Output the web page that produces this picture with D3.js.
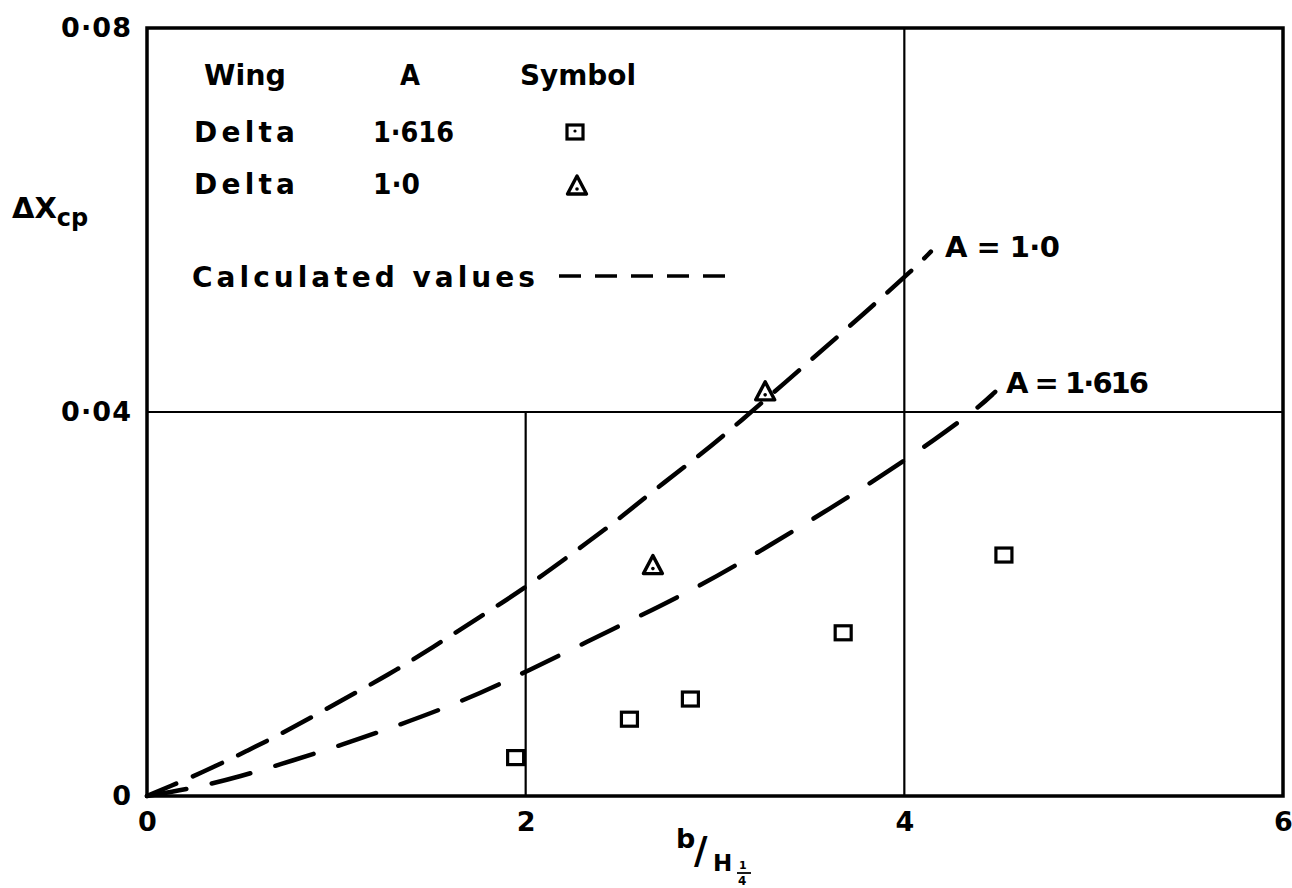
<!DOCTYPE html>
<html><head><meta charset="utf-8">
<script src="https://cdn.jsdelivr.net/npm/d3@7"></script>
<style>body{margin:0;background:#fff}svg{display:block}text{font-family:"DejaVu Sans",sans-serif;fill:#000;font-weight:bold}</style>
</head><body><svg id="c" width="1292" height="888"></svg>
<script>
// ---------- data ----------
const xTicks = [0, 2, 4, 6];
const xTickLabels = ["0", "2", "4", "6"];
const yTicks = [0, 0.04, 0.08];
const yTickLabels = ["0", "0·04", "0·08"];

// Delta wing A = 1.616 (squares)
const sqX = [1.947, 2.548, 2.870, 3.677, 4.526];
const sqY = [0.0040, 0.0080, 0.0101, 0.0170, 0.0251];
// Delta wing A = 1.0 (triangles)
const triX = [2.672, 3.265];
const triY = [0.0240, 0.0421];

// Calculated values, A = 1.0
const calc10X = [0, 0.12, 0.286, 0.53, 0.77, 1.03, 1.275, 1.51, 1.746, 2.0, 2.27, 2.49, 2.70, 2.92, 3.11, 3.50, 3.79, 4.06, 4.14];
const calc10Y = [0, 0.0010, 0.0024, 0.0047, 0.0071, 0.0100, 0.0126, 0.0155, 0.0185, 0.0217, 0.0256, 0.0288, 0.0322, 0.0355, 0.0386, 0.0453, 0.0503, 0.0551, 0.0567];
// Calculated values, A = 1.616
const calc16X = [0, 0.24, 0.49, 0.77, 1.04, 1.29, 1.66, 2.0, 2.46, 2.87, 3.24, 3.62, 3.90, 4.16, 4.40, 4.48];
const calc16Y = [0, 0.0008, 0.0020, 0.0037, 0.0054, 0.0071, 0.0098, 0.0129, 0.0174, 0.0213, 0.0255, 0.0301, 0.0336, 0.0371, 0.0406, 0.0421];
const curveLabels = ["A = 1·0", "A = 1·616"];

const legendHeader = ["Wing", "A", "Symbol"];
const legendWing = ["Delta", "Delta"];
const legendA = ["1·616", "1·0"];
const legendCalc = "Calculated values";

// grid segments [x0,y0,x1,y1] in data units
const gridSegs = [[2, 0, 2, 0.04], [4, 0, 4, 0.08], [0, 0.04, 6, 0.04]];

// ---------- drawing ----------
const svg = d3.select("#c");
const x = d3.scaleLinear().domain([0, 6]).range([147, 1283]);
const y = d3.scaleLinear().domain([0, 0.08]).range([796, 28]);

// grid
svg.append("g").selectAll("line").data(gridSegs).join("line")
  .attr("x1", d => x(d[0])).attr("y1", d => y(d[1]))
  .attr("x2", d => x(d[2])).attr("y2", d => y(d[3]))
  .attr("stroke", "#000").attr("stroke-width", 2.2);

// frame
svg.append("rect").attr("x", x(0)).attr("y", y(0.08))
  .attr("width", x(6) - x(0)).attr("height", y(0) - y(0.08))
  .attr("fill", "none").attr("stroke", "#000").attr("stroke-width", 3.5);

// axes
const xAxis = d3.axisBottom(x).tickValues(xTicks).tickSize(0).tickPadding(16)
  .tickFormat((d, i) => xTickLabels[i]);
const gx = svg.append("g").attr("transform", `translate(0,${y(0)})`).call(xAxis);
gx.select(".domain").remove();
gx.selectAll("text").attr("font-size", 27).attr("font-family", "DejaVu Sans").attr("fill", "#000");

const yAxis = d3.axisLeft(y).tickValues(yTicks).tickSize(0).tickPadding(16)
  .tickFormat((d, i) => yTickLabels[i]);
const gy = svg.append("g").attr("transform", `translate(${x(0)},0)`).call(yAxis);
gy.select(".domain").remove();
gy.selectAll("text").attr("font-size", 27).attr("font-family", "DejaVu Sans").attr("fill", "#000");
gy.selectAll("text").filter((d, i) => i > 0).attr("textLength", 70).attr("lengthAdjust", "spacing");

// curves
const line = d3.line().x(d => x(d[0])).y(d => y(d[1])).curve(d3.curveBasis);
const c10 = calc10X.map((v, i) => [v, calc10Y[i]]);
const c16 = calc16X.map((v, i) => [v, calc16Y[i]]);
svg.append("path").attr("d", line(c10)).attr("fill", "none").attr("stroke", "#000")
  .attr("stroke-width", 4.5).attr("stroke-linecap", "round").attr("stroke-dasharray", "32,18");
svg.append("path").attr("d", line(c16)).attr("fill", "none").attr("stroke", "#000")
  .attr("stroke-width", 4.5).attr("stroke-linecap", "round").attr("stroke-dasharray", "40,26");

// curve labels
svg.append("text").attr("x", 945).attr("y", 257).attr("font-size", 29)
  .attr("textLength", 115).attr("lengthAdjust", "spacing").text(curveLabels[0]);
svg.append("text").attr("x", 1006).attr("y", 393).attr("font-size", 29)
  .attr("textLength", 143).attr("lengthAdjust", "spacing").text(curveLabels[1]);

// markers
function square(g, cx, cy, dot) {
  g.append("rect").attr("x", cx - 8).attr("y", cy - 7).attr("width", 16).attr("height", 14)
    .attr("fill", "#fff").attr("stroke", "#000").attr("stroke-width", 3.2);
  if (dot) g.append("circle").attr("cx", cx).attr("cy", cy - 1).attr("r", 1.6).attr("fill", "#000");
}
function triangle(g, cx, cy) {
  g.append("path").attr("d", `M${cx},${cy - 10}L${cx + 9.5},${cy + 8}L${cx - 9.5},${cy + 8}Z`)
    .attr("fill", "#fff").attr("stroke", "#000").attr("stroke-width", 3.4).attr("stroke-linejoin", "round");
  g.append("circle").attr("cx", cx).attr("cy", cy + 3).attr("r", 1.8).attr("fill", "#000");
}
const gm = svg.append("g");
sqX.forEach((v, i) => square(gm, x(v), y(sqY[i]), false));
triX.forEach((v, i) => triangle(gm, x(v), y(triY[i])));

// legend
const lg = svg.append("g").attr("font-size", 28);
const hdrX = [204, 400, 520], hdrW = [82, 20, 116];
legendHeader.forEach((t, i) => lg.append("text").attr("x", hdrX[i]).attr("y", 85)
  .attr("textLength", hdrW[i]).attr("lengthAdjust", "spacingAndGlyphs").text(t));
const rowY = [142, 194];
legendWing.forEach((t, i) => lg.append("text").attr("x", 194).attr("y", rowY[i])
  .attr("textLength", 101).attr("lengthAdjust", "spacing").text(t));
const aW = [81, 47];
legendA.forEach((t, i) => lg.append("text").attr("x", 373).attr("y", rowY[i])
  .attr("textLength", aW[i]).attr("lengthAdjust", "spacingAndGlyphs").text(t));
square(lg, 575, 132, true);
triangle(lg, 577, 186);
lg.append("text").attr("x", 192).attr("y", 287).attr("textLength", 343)
  .attr("lengthAdjust", "spacing").text(legendCalc);
lg.append("line").attr("x1", 559).attr("x2", 732).attr("y1", 276).attr("y2", 276)
  .attr("stroke", "#000").attr("stroke-width", 3.5).attr("stroke-dasharray", "22,14");

// y axis title
const yt = svg.append("text").attr("x", 12).attr("y", 218).attr("font-size", 29);
yt.append("tspan").text("ΔX");
yt.append("tspan").attr("font-size", 24).attr("dy", 8).text("cp");

// x axis title  b / H 1/4
svg.append("text").attr("x", 676).attr("y", 848).attr("font-size", 27).text("b");
svg.append("text").attr("x", 694).attr("y", 863).attr("font-size", 37).text("/");
svg.append("text").attr("x", 713).attr("y", 871).attr("font-size", 23).text("H");
svg.append("text").attr("x", 739).attr("y", 869).attr("font-size", 11).text("1");
svg.append("line").attr("x1", 737).attr("x2", 751).attr("y1", 873).attr("y2", 873)
  .attr("stroke", "#000").attr("stroke-width", 1.8);
svg.append("text").attr("x", 738).attr("y", 885).attr("font-size", 12).text("4");
</script></body></html>
